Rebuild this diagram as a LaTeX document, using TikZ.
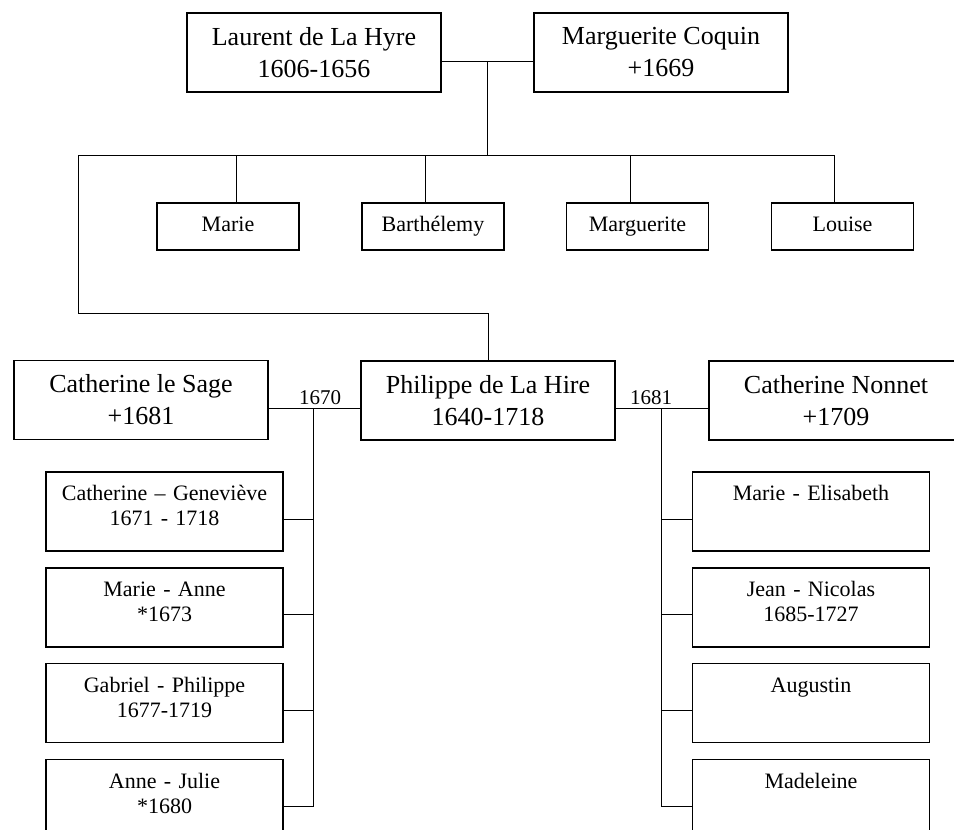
\documentclass[tikz,border=0pt]{standalone}
\usepackage{fontspec}
\setmainfont{Liberation Serif}
\usetikzlibrary{positioning}

\begin{document}
\begin{tikzpicture}[
  x=1pt,y=-1pt,
  spouse/.style={rectangle,draw,line width=1.2pt,minimum width=254pt,minimum height=79pt,
    align=center,font=\fontsize{26}{32}\selectfont},
  hero/.style={spouse,line width=2.3pt},
  sibling/.style={rectangle,draw,line width=1.2pt,minimum width=142pt,minimum height=47pt,
    text height=15pt,text depth=5pt,font=\fontsize{22}{26}\selectfont},
  kid/.style={rectangle,draw,line width=1.2pt,minimum width=237pt,text width=228pt,
    align=center,inner sep=3.5pt,text height=25pt,text depth=47pt,font=\fontsize{22}{25}\selectfont},
  year/.style={anchor=south,inner sep=1pt,font=\fontsize{21}{24}\selectfont},
  link/.style={line width=1pt},
  node distance=15.7pt]
    \useasboundingbox (0,0) rectangle (954,830);
    % Parents
    \node[spouse] (laurent) at (314,52.5) {Laurent de La Hyre\\1606-1656};
    \node[spouse] (coquin) at (661,52.5) {Marguerite Coquin\\+1669};
    \coordinate (wed1) at (487,61);
    \draw[link] (laurent.east |- wed1) -- (coquin.west |- wed1);
    % Brothers and sisters
    \node[sibling] (marie) at (228,226.5) {Marie};
    \node[sibling] (barth) at (433,226.5) {Barthélemy};
    \node[sibling] (margot) at (637.5,226.5) {Marguerite};
    \node[sibling] (louise) at (842.5,226.5) {Louise};
    \coordinate (bar) at (487,155);
    \coordinate (barleft) at (78,155);
    \coordinate (dmarie) at (236,155);
    \coordinate (dbarth) at (425,155);
    \coordinate (dmargot) at (630,155);
    \coordinate (dlouise) at (834,155);
    \draw[link] (wed1) -- (bar);
    \draw[link] (barleft) -- (dlouise);
    \draw[link] (dmarie) -- (dmarie |- marie.north);
    \draw[link] (dbarth) -- (dbarth |- barth.north);
    \draw[link] (dmargot) -- (dmargot |- margot.north);
    \draw[link] (dlouise) -- (dlouise |- louise.north);
    % Philippe and his two wives
    \node[hero] (philippe) at (488,400.5) {Philippe de La Hire\\1640-1718};
    \node[spouse] (lesage) at (141,400) {Catherine le Sage\\+1681};
    \node[spouse] (nonnet) at (836,400.5) {Catherine Nonnet\\+1709};
    \coordinate (turn) at (78,313);
    \draw[link] (barleft) -- (turn) -| (philippe.north);
    \coordinate (wed2) at (313,408);
    \coordinate (wed3) at (661,408);
    \draw[link] (lesage.east |- wed2) -- (philippe.west |- wed2);
    \draw[link] (philippe.east |- wed3) -- (nonnet.west |- wed3);
    \node[year] (y1670) at (320,406) {1670};
    \node[year] (y1681) at (651,406) {1681};
    % Children of the first marriage
    \node[kid] (gene) at (164.5,511.5) {Catherine -- Geneviève\\1671 - 1718};
    \node[kid,below=of gene] (manne) {Marie - Anne\\{*}1673};
    \node[kid,below=of manne] (gabriel) {Gabriel - Philippe\\1677-1719};
    \node[kid,below=of gabriel] (julie) {Anne - Julie\\{*}1680};
    \draw[link] (wed2) |- ([yshift=-7.5pt]julie.east);
    \foreach \k in {gene,manne,gabriel}
      \draw[link] ([yshift=-7.5pt]\k.east) -- ++(30,0);
    % Children of the second marriage
    \node[kid] (elisa) at (811,511.5) {Marie - Elisabeth};
    \node[kid,below=of elisa] (jean) {Jean - Nicolas\\1685-1727};
    \node[kid,below=of jean] (augustin) {Augustin};
    \node[kid,below=of augustin] (madeleine) {Madeleine};
    \draw[link] (wed3) |- ([yshift=-7.5pt]madeleine.west);
    \foreach \k in {elisa,jean,augustin}
      \draw[link] ([yshift=-7.5pt]\k.west) -- ++(-31,0);
\end{tikzpicture}
\end{document}
